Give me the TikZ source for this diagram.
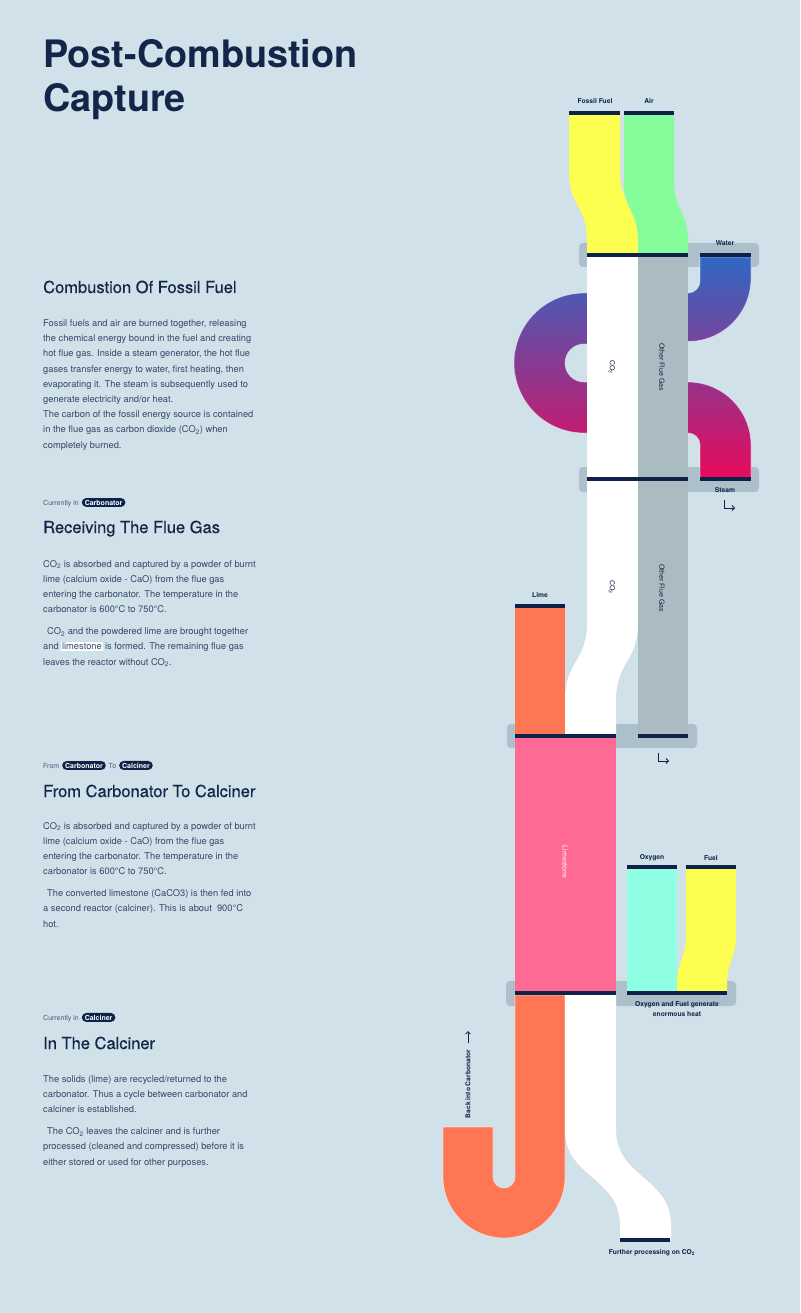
\documentclass[tikz,border=0pt]{standalone}
\usepackage{fontspec}
\setmainfont{TeX Gyre Heros}
\usetikzlibrary{arrows.meta, positioning}
\definecolor{bgc}{HTML}{D0E1E9}
\definecolor{sepc}{HTML}{ADBFCB}
\definecolor{navyc}{HTML}{0E2249}
\definecolor{headc}{HTML}{13264A}
\definecolor{bodyc}{HTML}{34476A}
\definecolor{tagc}{HTML}{4A5A75}
\definecolor{yellowc}{HTML}{FDFF50}
\definecolor{greenc}{HTML}{86FD9B}
\definecolor{greyc}{HTML}{AABBC2}
\definecolor{orangec}{HTML}{FF7655}
\definecolor{pinkc}{HTML}{FF6A95}
\definecolor{cyanc}{HTML}{8EFFE2}
\definecolor{pipetop}{HTML}{2F68C4}
\definecolor{pipemid}{HTML}{8A3592}
\definecolor{pipebot}{HTML}{E8095C}
% colour, left x, width, top y, bend start, bend end, bottom y, shift
\newcommand{\stream}[8]{%
  \fill[#1] (#2,#4) -- (#2,#5)
    .. controls (#2,{(#5+#6)/2}) and ({#2+#8},{(#5+#6)/2}) .. ({#2+#8},#6)
    -- ({#2+#8},#7) -- ({#2+#8+#3},#7) -- ({#2+#8+#3},#6)
    .. controls ({#2+#8+#3},{(#5+#6)/2}) and ({#2+#3},{(#5+#6)/2}) .. ({#2+#3},#5)
    -- ({#2+#3},#4) -- cycle;
}
\newcommand{\hlword}[1]{{\setlength{\fboxsep}{0.8pt}\colorbox{white}{#1}}}
\newcommand{\cotwo}{CO\textsubscript{2}}

\begin{document}
\begin{tikzpicture}[x=1pt, y=-1pt,
    lbl/.style={font=\fontsize{6.7}{10}\selectfont\bfseries, text=navyc, inner sep=0pt},
    vlbl/.style={font=\fontsize{7}{8}\selectfont, text=navyc, inner sep=0pt, rotate=-90},
    heading/.style={font=\fontsize{16.5}{20}\selectfont\addfontfeature{FakeBold=0.3}, text=headc, anchor=base west, inner sep=0pt},
    bodytxt/.style={font=\fontsize{9.3}{15.2}\selectfont, text=bodyc, align=left, anchor=base west, inner sep=0pt},
    tagtxt/.style={font=\fontsize{7}{8}\selectfont, text=tagc, anchor=base west, inner sep=0pt},
    pill/.style={font=\fontsize{7}{8}\selectfont\bfseries, text=white, fill=navyc, rounded corners=4.5pt, inner xsep=3pt, inner ysep=1.8pt},
    hook/.style={-{Straight Barb[length=2.5pt,width=5pt]}, navyc, line width=0.8pt},
    fringe/.style={draw=white, draw opacity=0.5, line width=0.8pt}]
  \fill[bgc] (0,0) rectangle (800,1313);
  \useasboundingbox (0,0) rectangle (800,1313);

  % left column texts (multi-line nodes sit on the baseline of their last line)
  \node[font=\fontsize{37.8}{44}\selectfont\bfseries, text=headc, align=left, anchor=base west, inner sep=0pt]
    (title) at (43,112) {Post-Combustion\\Capture};

  \node[heading] (hComb) at (43,293) {Combustion Of Fossil Fuel};
  \node[bodytxt] (pComb) at (43,448) {Fossil fuels and air are burned together, releasing\\
    the chemical energy bound in the fuel and creating\\
    hot flue gas. Inside a steam generator, the hot flue\\
    gases transfer energy to water, first heating, then\\
    evaporating it. The steam is subsequently used to\\
    generate electricity and/or heat.\\
    The carbon of the fossil energy source is contained\\
    in the flue gas as carbon dioxide (\cotwo) when\\
    completely burned.};

  \node[tagtxt] (tagRecv) at (43,505) {Currently in};
  \node[pill, base right=2.5pt of tagRecv] (pillRecv) {Carbonator};
  \node[heading] (hRecv) at (43,533) {Receiving The Flue Gas};
  \node[bodytxt] (pRecv) at (43,665) {\cotwo{} is absorbed and captured by a powder of burnt\\
    lime (calcium oxide - CaO) from the flue gas\\
    entering the carbonator. The temperature in the\\
    carbonator is 600°C to 750°C.\\[6.5pt]
    \hspace*{4pt}\cotwo{} and the powdered lime are brought together\\
    and \hlword{limestone} is formed. The remaining flue gas\\
    leaves the reactor without \cotwo.};

  \node[tagtxt] (tagFrom) at (43,768) {From};
  \node[pill, base right=2.5pt of tagFrom] (pillFromA) {Carbonator};
  \node[tagtxt, base right=2.5pt of pillFromA] (tagTo) {To};
  \node[pill, base right=2.5pt of tagTo] (pillFromB) {Calciner};
  \node[heading] (hFrom) at (43,797) {From Carbonator To Calciner};
  \node[bodytxt] (pFrom) at (43,927) {\cotwo{} is absorbed and captured by a powder of burnt\\
    lime (calcium oxide - CaO) from the flue gas\\
    entering the carbonator. The temperature in the\\
    carbonator is 600°C to 750°C.\\[6.5pt]
    \hspace*{4pt}The converted limestone (CaCO3) is then fed into\\
    a second reactor (calciner). This is about \ 900°C\\
    hot.};

  \node[tagtxt] (tagCalc) at (43,1020) {Currently in};
  \node[pill, base right=2.5pt of tagCalc] (pillCalc) {Calciner};
  \node[heading] (hCalc) at (43,1049) {In The Calciner};
  \node[bodytxt] (pCalc) at (43,1165) {The solids (lime) are recycled/returned to the\\
    carbonator. Thus a cycle between carbonator and\\
    calciner is established.\\[6.5pt]
    \hspace*{4pt}The \cotwo{} leaves the calciner and is further\\
    processed (cleaned and compressed) before it is\\
    either stored or used for other purposes.};

  % separator boxes
  \foreach \xa/\ya/\xb/\yb in {579/243/759/267, 579/467/759/492,
      507/724/697/748, 506/981/736/1006}
    \fill[sepc, rounded corners=4pt] (\xa,\ya) rectangle (\xb,\yb);

  % water / steam pipe
  \shade[top color=pipetop, middle color=pipemid, bottom color=pipebot, fringe]
    (751,257) -- (751,278.5) arc[start angle=0, end angle=90, radius=63]
    -- (584,344) arc[start angle=270, end angle=90, radius=19]
    -- (688,382) arc[start angle=270, end angle=360, radius=63]
    -- (751,479) -- (700,479) -- (700,445) arc[start angle=0, end angle=-90, radius=12]
    -- (584,433) arc[start angle=90, end angle=270, radius=70]
    -- (688,293) arc[start angle=90, end angle=0, radius=12]
    -- (700,257) -- cycle;

  % streams
  \stream{yellowc}{569}{51}{115}{172}{240}{255}{18}
  \stream{greenc}{624}{50}{115}{182}{240}{255}{14}
  \stream{white}{587}{51}{257}{623}{700}{736}{-22}
  \fill[greyc] (638,257) rectangle (688,736);
  \fill[orangec] (515,608) rectangle (565,736);
  \fill[pinkc] (515,738) rectangle (616,993);
  \fill[cyanc] (627,869) rectangle (677,993);
  \stream{yellowc}{686}{50}{869}{935}{985}{993}{-9}
  \fill[orangec, fringe] (565,995) -- (565,1177) arc[start angle=0, end angle=180, radius=61]
    -- (443,1127) -- (493,1127) -- (493,1177) arc[start angle=180, end angle=0, radius=11]
    -- (515,995) -- cycle;
  \stream{white}{565}{51}{995}{1130}{1225}{1240}{55}

  % dark bars
  \foreach \xa/\xb/\yy in {569/620/113, 624/674/113, 587/688/255, 700/751/255,
      587/688/479, 700/751/479, 515/565/606, 515/616/736, 638/688/736,
      627/677/867, 686/736/867, 515/616/993, 627/727/993, 620/670/1240}
    \fill[navyc] (\xa,{\yy-2}) rectangle (\xb,{\yy+2});

  % stream labels
  \node[lbl] (lFossil) at (595,101) {Fossil Fuel};
  \node[lbl] (lAir) at (649,101) {Air};
  \node[lbl] (lWater) at (725,243.5) {Water};
  \node[lbl] (lSteam) at (725,490.5) {Steam};
  \node[lbl] (lLime) at (540,595) {Lime};
  \node[lbl] (lOxy) at (652,858) {Oxygen};
  \node[lbl] (lFuel) at (711,858) {Fuel};
  \node[lbl, align=center] (lHeat) at (677,1009) {Oxygen and Fuel generate\\enormous heat};
  \node[lbl] (lFurther) at (652,1253) {Further processing on \cotwo};
  \node[vlbl] (lCOa) at (612,367) {\cotwo};
  \node[vlbl] (lFGa) at (662,367) {Other Flue Gas};
  \node[vlbl] (lCOb) at (612,587) {\cotwo};
  \node[vlbl] (lFGb) at (662,588) {Other Flue Gas};
  \node[vlbl, text=white] (lStone) at (565,862) {Limestone};
  \node[lbl, rotate=90] (lBack) at (468,1084) {Back into Carbonator};

  % small arrows
  \coordinate (hkSteamA) at (724,500);
  \coordinate (hkSteamB) at (735,508);
  \draw[hook] (hkSteamA) |- (hkSteamB);
  \coordinate (hkGasA) at (658,753);
  \coordinate (hkGasB) at (669,761);
  \draw[hook] (hkGasA) |- (hkGasB);
  \coordinate (upA) at (468,1043);
  \coordinate (upB) at (468,1031);
  \draw[hook] (upA) -- (upB);
\end{tikzpicture}
\end{document}
